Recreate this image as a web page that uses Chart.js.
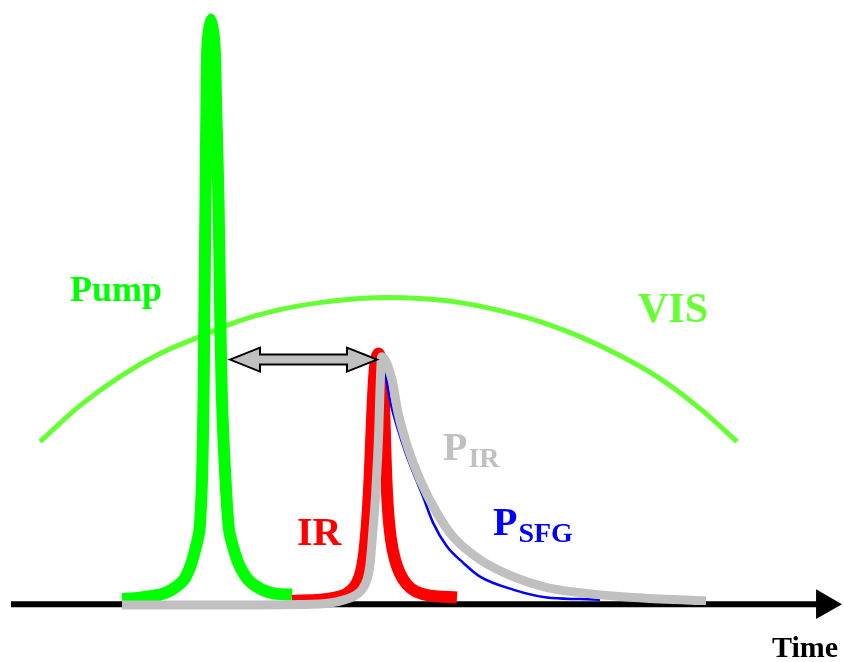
<!DOCTYPE html>
<html>
<head>
<meta charset="utf-8">
<script src="https://cdn.jsdelivr.net/npm/chart.js@4/dist/chart.umd.min.js"></script>
<style>
  html, body { margin: 0; padding: 0; background: #ffffff; }
  #wrap { width: 844px; height: 662px; position: relative; }
</style>
</head>
<body>
<div id="wrap"><canvas id="c"></canvas></div>
<script>
// ---- Data (time in arbitrary units, intensity in % of pump peak) ----
const pumpT = [12.2, 14.0, 16.0, 17.2, 18.4, 19.1, 19.6, 19.95, 20.2, 20.35, 20.45, 20.55, 20.65, 20.75, 21.1, 21.45, 21.6, 21.85, 22.0, 22.2, 22.55, 22.9, 23.3, 23.9, 24.8, 26.2, 27.5, 29.2];
const pumpI = [0.77, 1.03, 1.54, 2.40, 4.11, 6.68, 9.76, 12.67, 21.23, 34.93, 52.05, 69.18, 86.30, 95.72, 100, 95.72, 86.30, 69.18, 52.05, 34.93, 21.23, 12.67, 9.76, 6.68, 4.11, 2.40, 1.71, 1.54];

const irT = [29.2, 32.0, 33.5, 34.5, 35.2, 35.7, 36.1, 36.4, 36.65, 36.85, 37.0, 37.2, 37.4, 37.6, 37.85, 38.1, 38.3, 38.45, 38.6, 38.8, 39.1, 39.5, 40.0, 40.7, 41.6, 43.0, 45.7];
const irI = [0.51, 0.68, 1.03, 1.54, 2.40, 3.60, 5.48, 8.39, 12.67, 17.81, 22.95, 31.51, 38.36, 41.78, 42.81, 41.78, 38.36, 31.51, 22.95, 16.10, 10.96, 7.53, 5.14, 3.25, 2.05, 1.37, 1.03];

const pirT = [12.2, 20.0, 30.0, 33.0, 34.5, 35.5, 36.2, 36.7, 37.0, 37.3, 37.55, 37.75, 37.88, 38.0, 38.17, 39.2, 39.8, 40.75, 42.0, 43.67, 45.3, 48.0, 51.3, 54.7, 58.0, 62.0, 66.0, 70.6];
const pirI = [-0.26, -0.26, -0.17, 0.09, 0.68, 1.37, 2.40, 4.11, 6.68, 12.67, 18.32, 24.66, 29.79, 36.64, 42.29, 38.36, 32.71, 26.88, 21.23, 15.58, 11.47, 7.53, 4.62, 2.74, 1.88, 1.20, 0.77, 0.51];

const psfgT = [30.0, 34.0, 35.3, 36.0, 36.5, 36.8, 37.1, 37.35, 37.55, 37.7, 37.85, 38.1, 38.5, 39.05, 39.8, 40.55, 41.2, 42.3, 43.3, 44.7, 46.3, 48.0, 51.3, 54.7, 58.0, 60.0];
const psfgI = [0, 0.09, 0.68, 1.54, 2.74, 5.82, 12.67, 18.32, 24.66, 29.79, 36.64, 42.12, 39.55, 34.42, 29.79, 25.86, 22.95, 18.32, 13.87, 9.76, 7.02, 4.62, 2.40, 1.03, 0.77, 0.68];

const visT = [4.0, 8.0, 12.0, 16.0, 20.0, 24.0, 28.0, 32.0, 36.0, 38.8, 42.0, 46.0, 50.0, 54.0, 58.0, 62.0, 66.0, 70.0, 73.7];
const visI = [27.74, 33.90, 38.87, 42.81, 45.72, 48.46, 50.34, 51.54, 52.23, 52.40, 52.23, 51.54, 50.17, 48.29, 45.72, 42.47, 38.53, 33.39, 27.74];

const axisT = [1.1, 82.47];
const axisI = [-0.09, -0.09];

const delayT = [23.0, 37.7];   // pump-probe delay arrow (start, end)
const delayI = [41.78, 41.78];

// text labels
const labelText = ['Pump', 'VIS', 'IR', 'P', 'P', 'Time'];
const labelSub  = ['', '', '', 'IR', 'SFG', ''];
const labelT    = [7.0, 63.8, 29.7, 44.3, 49.3, 77.2];
const labelI    = [51.88, 48.29, 10.10, 24.66, 11.82, -9.08];

const pts = (t, v) => t.map((x, i) => ({ x: x, y: v[i] }));

const labelStyle = [
  { font: 'bold 36px "Liberation Serif"', color: '#00ff00' },
  { font: 'bold 42px "Liberation Serif"', color: '#66ff33' },
  { font: 'bold 40px "Liberation Serif"', color: '#ff0000' },
  { font: 'bold 40px "Liberation Serif"', color: '#c0c0c0' },
  { font: 'bold 40px "Liberation Serif"', color: '#0000ff' },
  { font: 'bold 30px "Liberation Serif"', color: '#000000' }
];

const overlay = {
  id: 'overlay',
  afterDatasetsDraw(chart) {
    const ctx = chart.ctx;
    const xs = chart.scales.x, ys = chart.scales.y;
    const x1 = xs.getPixelForValue(delayT[0]);
    const x2 = xs.getPixelForValue(delayT[1]);
    const y = ys.getPixelForValue(delayI[0]);
    const L = 30, H = 12, S = 5;
    ctx.save();
    ctx.beginPath();
    ctx.moveTo(x1, y);
    ctx.lineTo(x1 + L, y - H);
    ctx.lineTo(x1 + L, y - S);
    ctx.lineTo(x2 - L, y - S);
    ctx.lineTo(x2 - L, y - H);
    ctx.lineTo(x2, y);
    ctx.lineTo(x2 - L, y + H);
    ctx.lineTo(x2 - L, y + S);
    ctx.lineTo(x1 + L, y + S);
    ctx.lineTo(x1 + L, y + H);
    ctx.closePath();
    ctx.fillStyle = '#c0c0c0';
    ctx.fill();
    ctx.lineWidth = 2;
    ctx.strokeStyle = '#000000';
    ctx.lineJoin = 'miter';
    ctx.stroke();

    ctx.textBaseline = 'alphabetic';
    ctx.textAlign = 'left';
    labelText.forEach((txt, i) => {
      const px = xs.getPixelForValue(labelT[i]);
      const py = ys.getPixelForValue(labelI[i]);
      ctx.font = labelStyle[i].font;
      ctx.fillStyle = labelStyle[i].color;
      ctx.fillText(txt, px, py);
      if (labelSub[i]) {
        const w = ctx.measureText(txt).width;
        ctx.font = 'bold 28px "Liberation Serif"';
        ctx.fillText(labelSub[i], px + w + 1, py + 7);
      }
    });
    ctx.restore();
  }
};

const common = {
  pointRadius: 0,
  fill: false,
  cubicInterpolationMode: 'monotone',
  borderJoinStyle: 'round',
  borderCapStyle: 'butt',
  clip: false
};
const smooth = { cubicInterpolationMode: 'default', tension: 0.3 };

new Chart(document.getElementById('c'), {
  type: 'line',
  data: {
    datasets: [
      Object.assign({}, common, { label: 'P_IR', data: pts(pirT, pirI), borderColor: '#c0c0c0', borderWidth: 9, order: 1 }),
      Object.assign({}, common, { label: 'P_SFG', data: pts(psfgT, psfgI), borderColor: '#0000ff', borderWidth: 2.5, order: 2 }),
      Object.assign({}, common, smooth, { label: 'IR', data: pts(irT, irI), borderColor: '#ff0000', borderWidth: 12, order: 3 }),
      Object.assign({}, common, smooth, { label: 'Pump', data: pts(pumpT, pumpI), borderColor: '#00ff00', borderWidth: 12, order: 4 }),
      Object.assign({}, common, { label: 'VIS', data: pts(visT, visI), borderColor: '#66ff33', borderWidth: 5, order: 5 }),
      {
        label: 'Time axis', data: pts(axisT, axisI), borderColor: '#000000', borderWidth: 6, order: 6,
        tension: 0, fill: false, clip: false,
        pointStyle: 'triangle', pointRotation: 90,
        pointRadius: (c) => (c.dataIndex === 1 ? 17.3 : 0),
        pointBackgroundColor: '#000000', pointBorderColor: '#000000', pointBorderWidth: 0
      }
    ]
  },
  options: {
    responsive: true,
    maintainAspectRatio: false,
    animation: false,
    events: [],
    layout: { padding: 0, autoPadding: false },
    scales: {
      x: { type: 'linear', min: 0, max: 84.4, display: false },
      y: { type: 'linear', min: -10, max: 103.36, display: false }
    },
    plugins: { legend: { display: false }, tooltip: { enabled: false } }
  },
  plugins: [overlay]
});
</script>
</body>
</html>
